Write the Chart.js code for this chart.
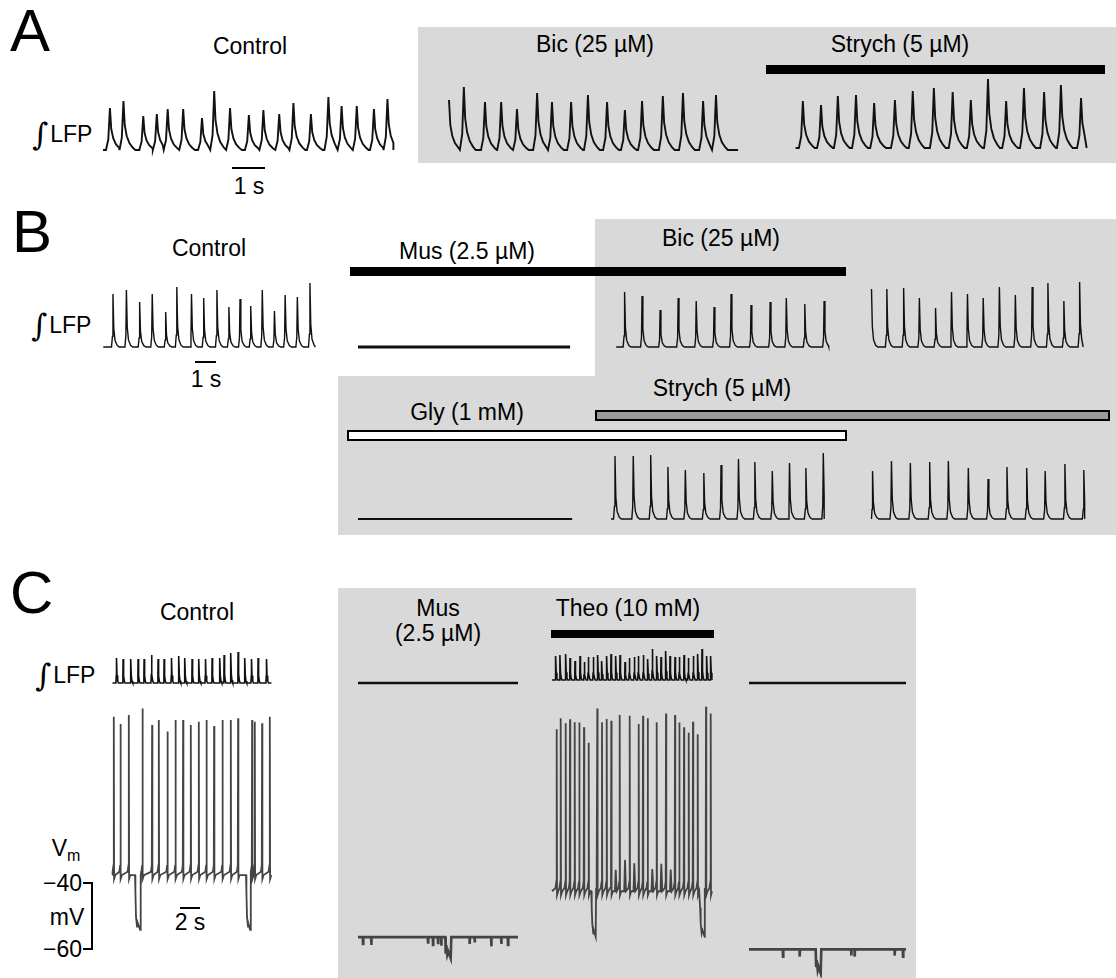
<!DOCTYPE html>
<html>
<head>
<meta charset="utf-8">
<script src="https://cdn.jsdelivr.net/npm/chart.js@4.4.1/dist/chart.umd.min.js"></script>
<style>
  body { margin: 0; width: 1116px; height: 978px; position: relative; overflow: hidden; background: #fff;
         font-family: "Liberation Sans", Arial, sans-serif; color: #000; }
  .box { position: absolute; background: #d9d9d9; }
  .t { position: absolute; font-size: 23px; line-height: 1; white-space: nowrap; transform: translate(-50%, -50%); }
  .tl { position: absolute; font-size: 23px; line-height: 1; white-space: nowrap; transform: translateY(-50%); }
  .tr { position: absolute; font-size: 23px; line-height: 1; white-space: nowrap; transform: translate(-100%, -50%); }
  .big { position: absolute; font-size: 60px; line-height: 1; }
  .bar { position: absolute; background: #000; box-sizing: border-box; }
  .int { font-family: "DejaVu Serif", serif; font-size: 31px; margin-right: 2px; position: relative; top: 3px; }
  canvas { position: absolute; }
</style>
</head>
<body>
<!-- shaded drug periods -->
<div class="box" style="left:418px;top:27px;width:698px;height:136px"></div>
<div class="box" style="left:595px;top:219px;width:521px;height:157px"></div>
<div class="box" style="left:338px;top:376px;width:778px;height:159px"></div>
<div class="box" style="left:338px;top:588px;width:578px;height:390px"></div>

<!-- panel A -->
<div class="big" style="left:10px;top:1px">A</div>
<div class="t" style="left:250px;top:46px">Control</div>
<div class="tl" style="left:32px;top:131px"><span class="int">∫</span>LFP</div>
<div class="bar" style="left:232px;top:167px;width:33px;height:2px"></div>
<div class="t" style="left:249px;top:186px">1 s</div>
<div class="t" style="left:595px;top:44px">Bic (25 µM)</div>
<div class="t" style="left:900px;top:44px">Strych (5 µM)</div>
<div class="bar" style="left:766px;top:65px;width:339px;height:9px"></div>

<!-- panel B -->
<div class="big" style="left:12px;top:202px">B</div>
<div class="t" style="left:209px;top:248px">Control</div>
<div class="tl" style="left:31px;top:322px"><span class="int">∫</span>LFP</div>
<div class="bar" style="left:195px;top:361px;width:21px;height:2px"></div>
<div class="t" style="left:206px;top:379px">1 s</div>
<div class="t" style="left:467px;top:251px">Mus (2.5 µM)</div>
<div class="t" style="left:721px;top:238px">Bic (25 µM)</div>
<div class="bar" style="left:350px;top:267px;width:496px;height:9px"></div>
<div class="t" style="left:722px;top:388px">Strych (5 µM)</div>
<div class="t" style="left:467px;top:412px">Gly (1 mM)</div>
<div class="bar" style="left:595px;top:410px;width:515px;height:11px;background:#9a9a9a;border:2px solid #000"></div>
<div class="bar" style="left:347px;top:430px;width:500px;height:11px;background:#fff;border:2px solid #000"></div>

<!-- panel C -->
<div class="big" style="left:10px;top:563px">C</div>
<div class="t" style="left:197px;top:612px">Control</div>
<div class="tl" style="left:35px;top:672px"><span class="int">∫</span>LFP</div>
<div class="t" style="left:66px;top:848px">V<span style="font-size:16px;position:relative;top:5px">m</span></div>
<div class="tr" style="left:82px;top:883px">−40</div>
<div class="t" style="left:67px;top:917px">mV</div>
<div class="tr" style="left:82px;top:949px">−60</div>
<div class="bar" style="left:91px;top:882px;width:2px;height:68px"></div>
<div class="bar" style="left:83px;top:882px;width:9px;height:2px"></div>
<div class="bar" style="left:83px;top:948px;width:9px;height:2px"></div>
<div class="bar" style="left:180px;top:907px;width:20px;height:2px"></div>
<div class="t" style="left:190px;top:922px">2 s</div>
<div class="t" style="left:438px;top:608px">Mus</div>
<div class="t" style="left:438px;top:633px">(2.5 µM)</div>
<div class="t" style="left:628px;top:608px">Theo (10 mM)</div>
<div class="bar" style="left:551px;top:630px;width:163px;height:8px"></div>

<script>
// ---- A: integrated LFP, peak times (s) and peak heights (a.u.) ----
const aCtrlT = [0.21, 0.62, 1.22, 1.63, 1.96, 2.43, 3.0, 3.37, 3.85, 4.42, 4.86, 5.34, 5.77, 6.3, 6.83, 7.23, 7.69, 8.21, 8.62];
const aCtrlAmp = [42, 49, 34, 36, 41, 41, 32, 59, 42, 35, 40, 36, 47, 36, 53, 44, 44, 41, 51];
const aBicT = [0, 0.45, 1.09, 1.58, 2.06, 2.67, 3.12, 3.70, 4.21, 4.79, 5.33, 5.85, 6.48, 7.09, 7.70, 8.09];
const aBicAmp = [50, 63, 48, 48, 41, 57, 48, 48, 55, 48, 40, 49, 54, 57, 49, 55];
const aStrT = [0.22, 0.77, 1.28, 1.83, 2.38, 3.01, 3.55, 4.19, 4.76, 5.31, 5.83, 6.38, 6.92, 7.53, 8.04, 8.65];
const aStrAmp = [47, 43, 52, 53, 45, 48, 57, 60, 56, 48, 69, 47, 60, 56, 63, 50];

// ---- B ----
const bCtrlT = [0.46, 1.10, 1.73, 2.33, 2.97, 3.50, 4.20, 4.78, 5.41, 5.98, 6.51, 7.02, 7.57, 8.15, 8.66, 9.24, 9.84];
const bCtrlAmp = [53, 57, 45, 53, 35, 60, 53, 49, 57, 40, 48, 41, 57, 36, 52, 50, 64];
const bBic1T = [0.40, 1.23, 2.09, 2.95, 3.81, 4.66, 5.47, 6.42, 7.33, 8.10, 8.98, 9.90];
const bBic1Amp = [55, 51, 37, 49, 46, 40, 53, 42, 45, 49, 43, 46];
const bBic2T = [0, 0.73, 1.53, 2.28, 3.05, 3.81, 4.57, 5.32, 6.09, 6.85, 7.65, 8.40, 9.16, 9.91];
const bBic2Amp = [58, 58, 59, 49, 39, 55, 53, 49, 60, 52, 60, 64, 46, 65];
const bStr1T = [0.19, 1.06, 1.89, 2.71, 3.54, 4.42, 5.24, 6.07, 6.85, 7.68, 8.50, 9.28, 10.11];
const bStr1Amp = [63, 63, 64, 52, 49, 46, 54, 60, 57, 48, 56, 51, 66];
const bStr2T = [0.05, 0.95, 1.85, 2.77, 3.66, 4.61, 5.55, 6.45, 7.39, 8.27, 9.21, 10.11];
const bStr2Amp = [48, 58, 56, 57, 58, 51, 40, 52, 51, 48, 55, 49];

// ---- C: LFP ----
const cCtrlLfpT = [0.4, 1.06, 1.83, 2.56, 3.16, 3.9, 4.56, 5.16, 5.9, 6.63, 7.23, 7.96, 8.63, 9.3, 9.96, 10.73, 11.16, 11.83, 12.56, 13.23, 13.9, 14.56, 15.4];
const cCtrlLfpAmp = [25, 24, 24, 24, 24, 28, 24, 24, 25, 27, 25, 24, 24, 24, 25, 25, 28, 30, 31, 25, 24, 25, 24];
const cTheoLfpT = [0.37, 0.8, 1.37, 1.8, 2.3, 2.8, 3.23, 3.63, 4.13, 4.57, 4.97, 5.47, 5.9, 6.37, 6.8, 7.3, 7.73, 8.23, 8.63, 9.13, 9.57, 10.03, 10.47, 10.9, 11.37, 11.8, 12.3, 12.73, 13.2, 13.63, 14.13, 14.57, 15.0, 15.47, 15.87];
const cTheoLfpAmp = [24, 25, 26, 22, 19, 24, 18, 23, 23, 25, 19, 24, 26, 24, 25, 18, 22, 23, 24, 25, 21, 31, 24, 23, 29, 24, 23, 23, 25, 22, 24, 26, 31, 24, 24];

// ---- C: membrane potential (mV) ----
const cCtrlRest = -37.6;
const cCtrlSpikeT = [0.13, 0.80, 1.63, 3.0, 3.96, 4.63, 5.5, 6.3, 7.06, 7.83, 8.63, 9.4, 10.16, 11.0, 11.83, 12.56, 13.96, 14.23, 14.96, 15.73];
const cCtrlSpikeMv = [10.4, 8.2, 10.9, 12.9, 7.9, 9.4, 5.9, 9.4, 9.4, 7.9, 8.9, 9.4, 7.6, 9.4, 9.4, 9.9, 9.4, 8.9, 8.4, 10.4];
const cCtrlDips = [[2.25, 2.82, -54.2], [13.35, 13.82, -54.2]];

const cTheoRest = -42.5;
const cTheoSpikeT = [0.47, 0.87, 1.37, 1.80, 2.27, 2.73, 3.20, 3.67, 4.53, 5.0, 5.47, 5.93, 6.77, 7.77, 8.67, 9.1, 9.57, 10.47, 11.4, 12.3, 12.73, 13.2, 13.67, 14.1, 14.57, 15.4, 15.87];
const cTheoSpikeMv = [6.6, 9.9, 8.4, 9.6, 8.7, 8.6, 7.2, 2.5, 12.9, 8.7, 9.7, 9.2, 10.9, 10.7, 8.2, 10.7, 9.9, 8.7, 11.4, 10.9, 8.6, 7.2, 5.5, 8.9, 5.1, 13.4, 11.4];
const cTheoSubT = [6.37, 7.3, 8.23, 10.03, 10.93, 11.87];
const cTheoSubMv = [-36, -33, -34, -35.8, -34.2, -35.9];
const cTheoDips = [[3.93, 4.43, -56.3], [14.77, 15.33, -56.3]];

const cMusRest = -56.4;
const cMusTickT = [0.5, 1.33, 7.0, 7.5, 8.0, 8.33, 11.17, 11.67, 13.33, 14.33, 15.0];
const cMusTickMv = [-58.5, -58.8, -58, -58.8, -58.2, -59, -58.5, -58, -59.2, -58.5, -58.8];
const cMusDips = [[8.73, 9.33, -62.8]];

const cRightRest = -60.1;
const cRightTickT = [3.4, 5.07, 10.23, 10.57, 14.57, 15.4];
const cRightTickMv = [-62.3, -62.3, -62, -62.3, -62, -62.3];
const cRightDips = [[6.67, 7.23, -67.4]];

// burst waveforms [dt (s), fraction of peak]
const shapeA = [[-0.12, 0], [-0.05, 0.25], [0, 1], [0.04, 0.5], [0.1, 0.28], [0.18, 0.14], [0.28, 0.05], [0.36, 0]];
const shapeB = [[-0.07, 0], [-0.025, 0.2], [0, 1], [0.04, 0.35], [0.1, 0.12], [0.2, 0.03], [0.3, 0]];
const shapeC = [[-0.06, 0], [-0.02, 0.3], [0, 1], [0.05, 0.3], [0.12, 0.08], [0.2, 0]];

function lfpPoints(times, amps, tEnd, shape) {
  const pts = [];
  times.forEach((t, i) => {
    const next = i + 1 < times.length ? times[i + 1] + shape[0][0] : Infinity;
    shape.forEach(([dt, f]) => {
      const x = t + dt;
      if (x < 0 || x > tEnd) return;
      if (dt > 0 && x >= next) return;
      pts.push({ x: x, y: amps[i] * f });
    });
  });
  if (!pts.length || pts[0].x > 0) pts.unshift({ x: 0, y: 0 });
  if (pts[pts.length - 1].x < tEnd) pts.push({ x: tEnd, y: 0 });
  return pts;
}

function vmPoints(rest, tEnd, ev) {
  const p = [[0, rest], [tEnd, rest]];
  (ev.spikeT || []).forEach((t, i) => {
    p.push([t - 0.12, rest + 1], [t - 0.03, rest + 3], [t, ev.spikeMv[i]], [t + 0.03, rest - 1.2], [t + 0.15, rest]);
  });
  (ev.subT || []).forEach((t, i) => {
    p.push([t - 0.08, rest], [t, ev.subMv[i]], [t + 0.1, rest]);
  });
  (ev.tickT || []).forEach((t, i) => {
    p.push([t - 0.02, rest], [t, ev.tickMv[i]], [t + 0.03, rest]);
  });
  (ev.dips || []).forEach(([s, e, m]) => {
    p.push([s, rest], [s + 0.04, rest - 5], [s + 0.1, m + 4], [s + 0.2, m + 1], [(s + e) / 2, m + 2], [e - 0.06, m], [e, rest]);
  });
  return p.filter(q => q[0] >= 0 && q[0] <= tEnd)
          .sort((a, b) => a[0] - b[0])
          .map(q => ({ x: q[0], y: q[1] }));
}

// place one trace: x0 = page x of t=0, pps = px per s, yRef = page y of value vRef, ppu = px per unit
function plotTrace(pts, L, color, width) {
  const ys = pts.map(p => p.y);
  const tEnd = pts[pts.length - 1].x;
  const left = Math.floor(L.x0 - 6);
  const right = Math.ceil(L.x0 + tEnd * L.pps + 6);
  const top = Math.floor(L.yRef - (Math.max(...ys) - L.vRef) * L.ppu - 6);
  const bottom = Math.ceil(L.yRef + (L.vRef - Math.min(...ys)) * L.ppu + 6);
  const w = right - left, h = bottom - top;
  const cv = document.createElement('canvas');
  cv.width = w; cv.height = h;
  cv.style.left = left + 'px'; cv.style.top = top + 'px';
  cv.style.width = w + 'px'; cv.style.height = h + 'px';
  document.body.appendChild(cv);
  const xMin = (left - L.x0) / L.pps;
  const yMax = L.vRef + (L.yRef - top) / L.ppu;
  new Chart(cv, {
    type: 'line',
    data: { datasets: [{ data: pts, borderColor: color, borderWidth: width, pointRadius: 0, tension: 0, fill: false }] },
    options: {
      responsive: false, animation: false, devicePixelRatio: 1, events: [],
      layout: { padding: 0 },
      plugins: { legend: { display: false }, tooltip: { enabled: false } },
      scales: {
        x: { type: 'linear', display: false, min: xMin, max: xMin + w / L.pps },
        y: { display: false, min: yMax - h / L.ppu, max: yMax }
      }
    }
  });
}

const black = '#111';
const grey = '#444';

// A  (33 px/s)
plotTrace(lfpPoints(aCtrlT, aCtrlAmp, 8.8, shapeA), { x0: 103, pps: 33, yRef: 150, vRef: 0, ppu: 1 }, black, 1.9);
plotTrace(lfpPoints(aBicT, aBicAmp, 8.76, shapeA), { x0: 449, pps: 33, yRef: 150, vRef: 0, ppu: 1 }, black, 1.9);
plotTrace(lfpPoints(aStrT, aStrAmp, 8.82, shapeA), { x0: 795.6, pps: 33, yRef: 148, vRef: 0, ppu: 1 }, black, 1.9);

// B  (21 px/s)
plotTrace(lfpPoints(bCtrlT, bCtrlAmp, 10.1, shapeB), { x0: 103.3, pps: 21, yRef: 347, vRef: 0, ppu: 1 }, black, 1.4);
plotTrace(lfpPoints([], [], 10.1, shapeB), { x0: 358, pps: 21, yRef: 347, vRef: 0, ppu: 1 }, black, 2.8);
plotTrace(lfpPoints(bBic1T, bBic1Amp, 10.12, shapeB), { x0: 616.2, pps: 21, yRef: 347, vRef: 0, ppu: 1 }, black, 1.4);
plotTrace(lfpPoints(bBic2T, bBic2Amp, 10.08, shapeB), { x0: 871.5, pps: 21, yRef: 347, vRef: 0, ppu: 1 }, black, 1.4);
plotTrace(lfpPoints([], [], 10.2, shapeB), { x0: 358, pps: 21, yRef: 519, vRef: 0, ppu: 1 }, black, 2.2);
plotTrace(lfpPoints(bStr1T, bStr1Amp, 10.15, shapeB), { x0: 611, pps: 21, yRef: 519, vRef: 0, ppu: 1 }, black, 1.4);
plotTrace(lfpPoints(bStr2T, bStr2Amp, 10.15, shapeB), { x0: 871.5, pps: 21, yRef: 519, vRef: 0, ppu: 1 }, black, 1.4);

// C  (10 px/s, Vm 3.3 px/mV with -40 mV at y=883)
plotTrace(lfpPoints(cCtrlLfpT, cCtrlLfpAmp, 15.9, shapeC), { x0: 112.5, pps: 10, yRef: 683, vRef: 0, ppu: 1 }, black, 1.6);
plotTrace(lfpPoints([], [], 16.0, shapeC), { x0: 358, pps: 10, yRef: 683, vRef: 0, ppu: 1 }, black, 2.4);
plotTrace(lfpPoints(cTheoLfpT, cTheoLfpAmp, 16.0, shapeC), { x0: 552, pps: 10, yRef: 680, vRef: 0, ppu: 1 }, black, 1.6);
plotTrace(lfpPoints([], [], 15.7, shapeC), { x0: 749, pps: 10, yRef: 683, vRef: 0, ppu: 1 }, black, 2.4);

plotTrace(vmPoints(cCtrlRest, 15.9, { spikeT: cCtrlSpikeT, spikeMv: cCtrlSpikeMv, dips: cCtrlDips }),
  { x0: 112.5, pps: 10, yRef: 883, vRef: -40, ppu: 3.3 }, grey, 1.8);
plotTrace(vmPoints(cMusRest, 16.0, { tickT: cMusTickT, tickMv: cMusTickMv, dips: cMusDips }),
  { x0: 358, pps: 10, yRef: 883, vRef: -40, ppu: 3.3 }, grey, 2.6);
plotTrace(vmPoints(cTheoRest, 16.0, { spikeT: cTheoSpikeT, spikeMv: cTheoSpikeMv, subT: cTheoSubT, subMv: cTheoSubMv, dips: cTheoDips }),
  { x0: 552, pps: 10, yRef: 883, vRef: -40, ppu: 3.3 }, grey, 1.8);
plotTrace(vmPoints(cRightRest, 15.7, { tickT: cRightTickT, tickMv: cRightTickMv, dips: cRightDips }),
  { x0: 749, pps: 10, yRef: 883, vRef: -40, ppu: 3.3 }, grey, 2.6);
</script>
</body>
</html>
